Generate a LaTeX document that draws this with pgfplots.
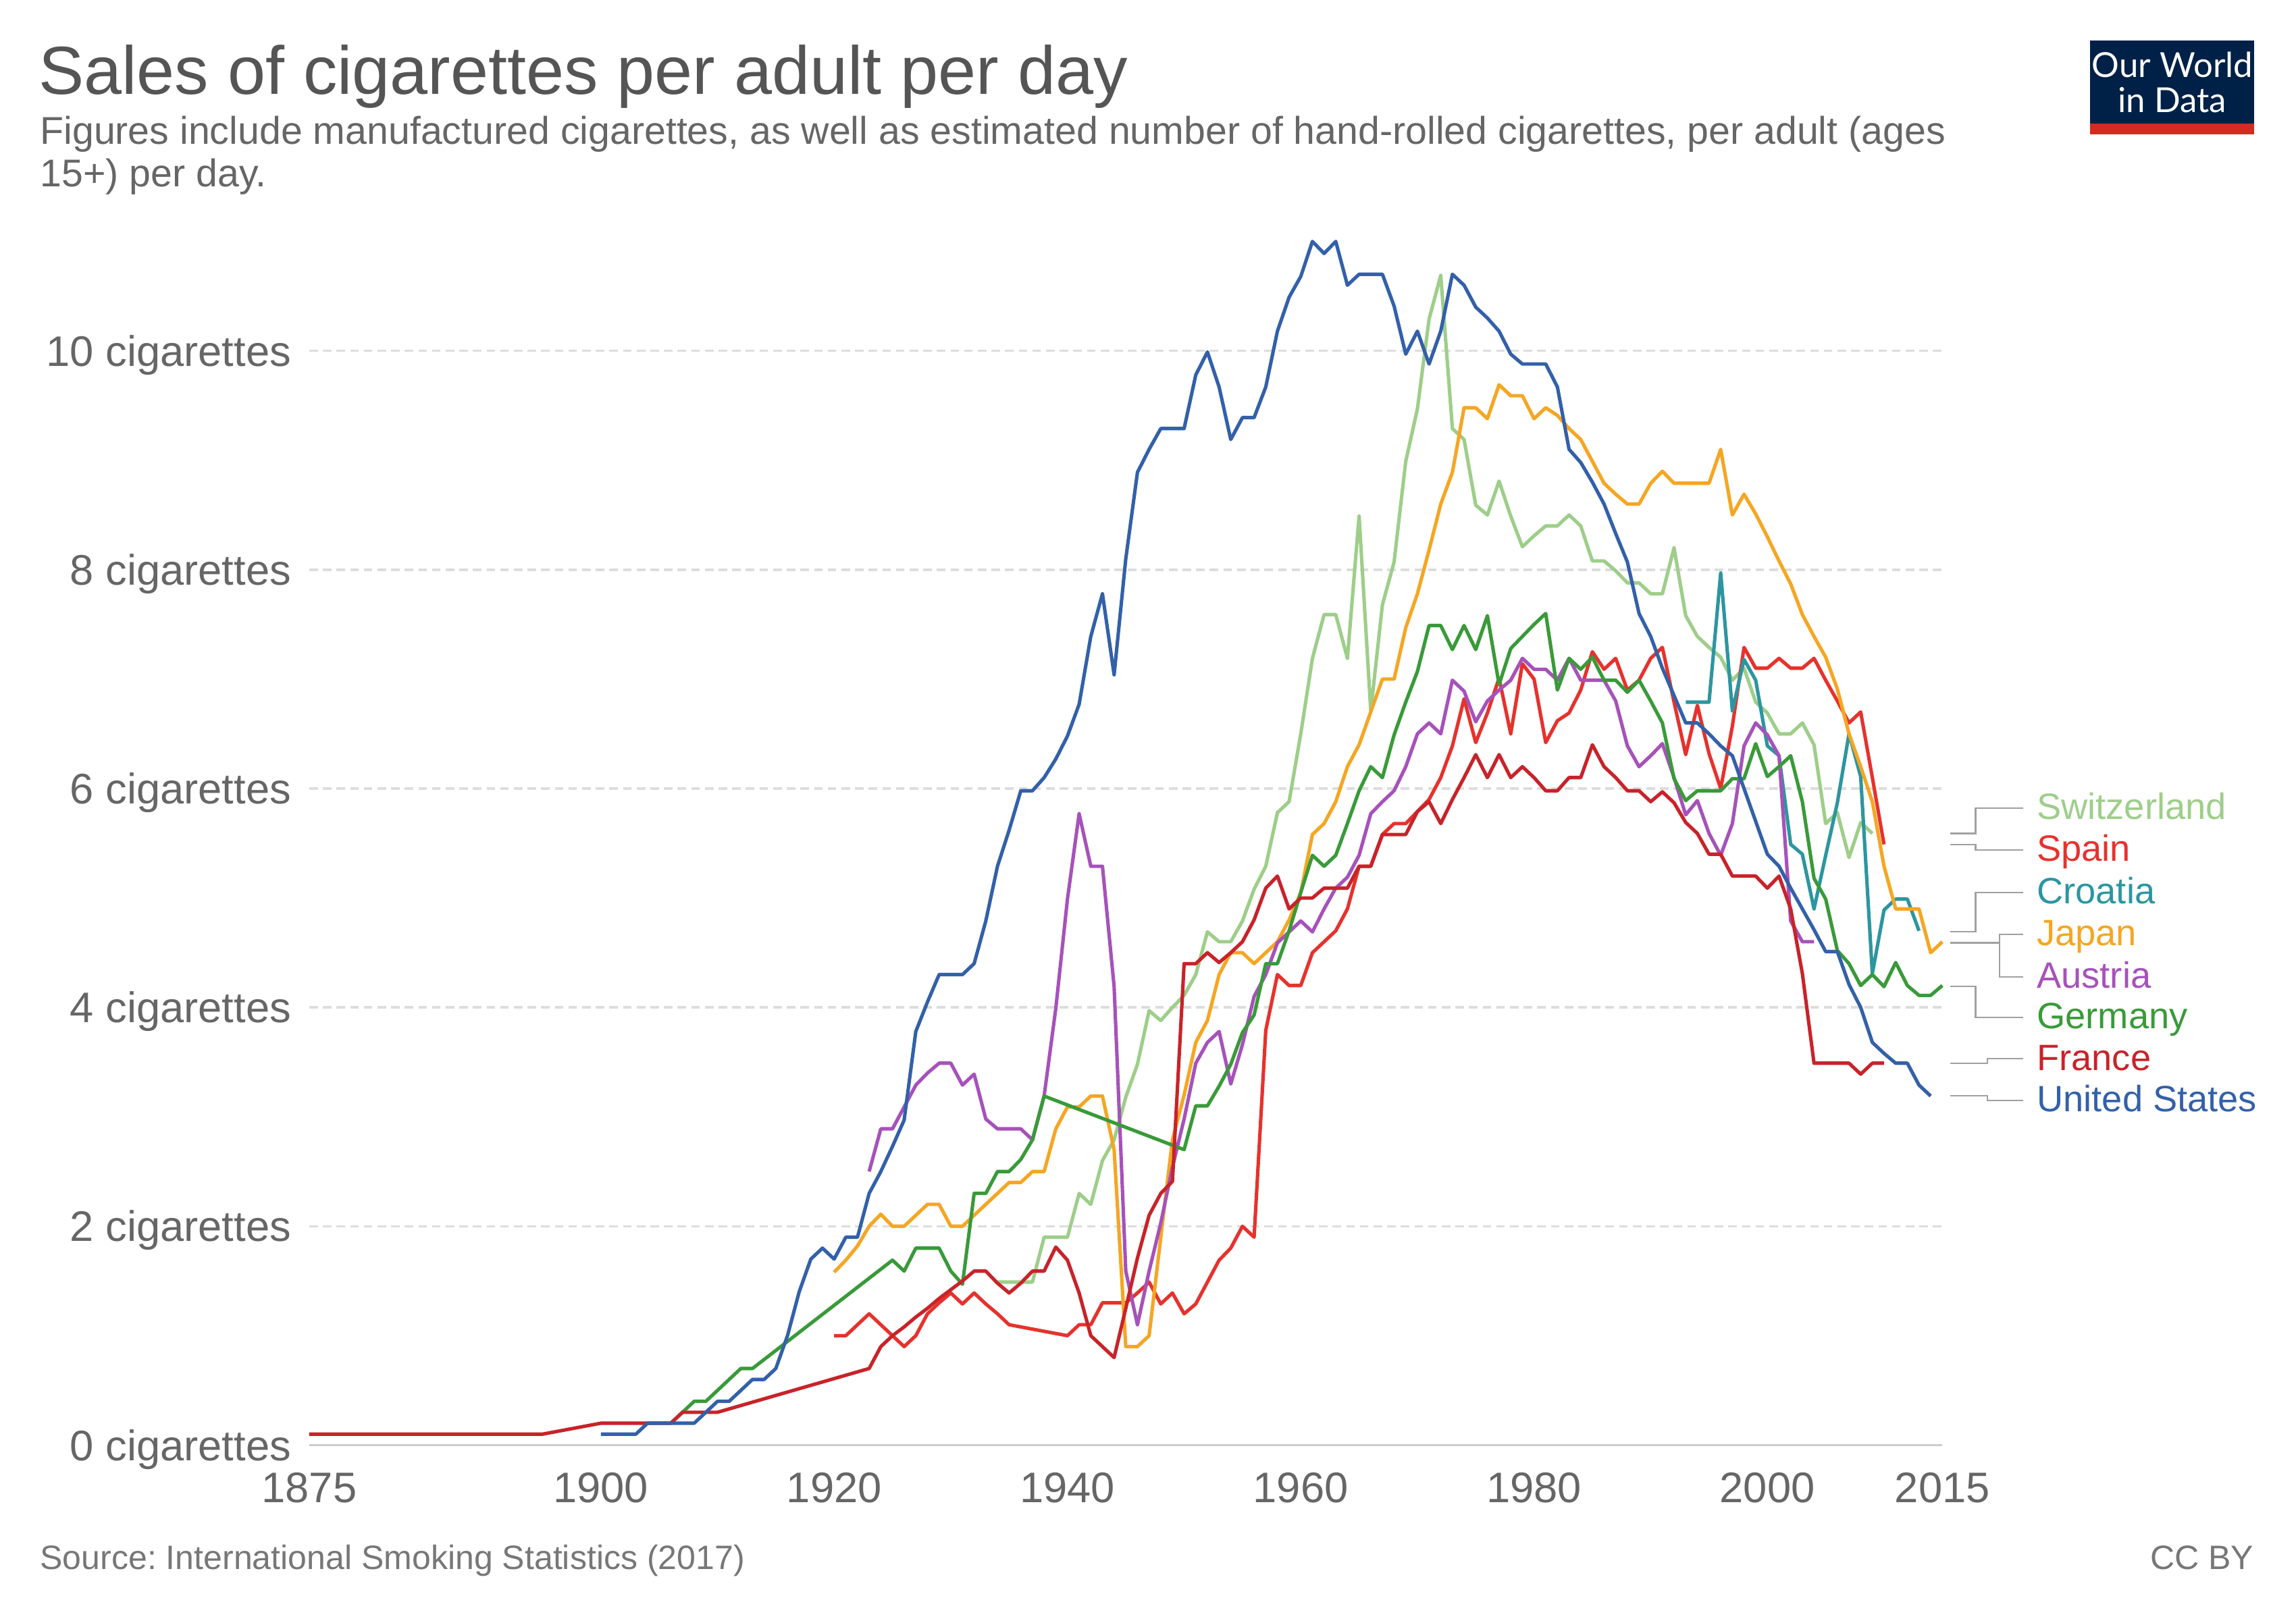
\documentclass[border=0pt]{standalone}
\usepackage{fontspec}
\setmainfont{Liberation Sans}
\newfontfamily\latofont{Lato}
\usepackage{pgfplots}
\pgfplotsset{compat=1.18}
\frenchspacing
\definecolor{swiss}{RGB}{158,206,138}
\definecolor{spain}{RGB}{230,50,45}
\definecolor{croatia}{RGB}{44,150,160}
\definecolor{japan}{RGB}{245,166,35}
\definecolor{austria}{RGB}{166,82,186}
\definecolor{germany}{RGB}{57,154,57}
\definecolor{france}{RGB}{200,35,42}
\definecolor{usa}{RGB}{51,96,169}
\definecolor{titlegray}{RGB}{85,85,85}
\definecolor{subgray}{RGB}{102,102,102}
\definecolor{tickgray}{RGB}{102,102,102}
\definecolor{srcgray}{RGB}{119,119,119}
\definecolor{gridgray}{RGB}{221,221,221}
\definecolor{axisgray}{RGB}{204,204,204}
\definecolor{conngray}{RGB}{160,160,160}
\definecolor{owidnavy}{RGB}{0,33,71}
\definecolor{owidred}{RGB}{212,43,33}

\pgfplotstableread{
year val
1934 1.49
1935 1.49
1936 1.49
1937 1.49
1938 1.9
1939 1.9
1940 1.9
1941 2.3
1942 2.2
1943 2.6
1944 2.79
1945 3.18
1946 3.48
1947 3.97
1948 3.88
1949 4.0
1950 4.11
1951 4.3
1952 4.69
1953 4.6
1954 4.6
1955 4.79
1956 5.08
1957 5.29
1958 5.78
1959 5.88
1960 6.5
1961 7.19
1962 7.59
1963 7.59
1964 7.19
1965 8.49
1966 6.71
1967 7.68
1968 8.07
1969 8.99
1970 9.47
1971 10.29
1972 10.69
1973 9.29
1974 9.19
1975 8.59
1976 8.5
1977 8.81
1978 8.49
1979 8.21
1980 8.31
1981 8.40
1982 8.40
1983 8.5
1984 8.4
1985 8.08
1986 8.08
1987 7.99
1988 7.88
1989 7.88
1990 7.78
1991 7.78
1992 8.2
1993 7.58
1994 7.39
1995 7.29
1996 7.2
1997 6.99
1998 7.1
1999 6.79
2000 6.69
2001 6.5
2002 6.5
2003 6.6
2004 6.4
2005 5.68
2006 5.78
2007 5.37
2008 5.69
2009 5.59
}\tswiss

\pgfplotstableread{
year val
1920 1.0
1921 1.0
1922 1.1
1923 1.2
1924 1.1
1925 1.0
1926 0.9
1927 1.0
1928 1.2
1929 1.3
1930 1.39
1931 1.29
1932 1.39
1933 1.29
1934 1.2
1935 1.1
1940 1.0
1941 1.1
1942 1.1
1943 1.3
1944 1.3
1945 1.3
1946 1.39
1947 1.49
1948 1.29
1949 1.39
1950 1.2
1951 1.29
1952 1.49
1953 1.69
1954 1.8
1955 2.0
1956 1.9
1957 3.79
1958 4.3
1959 4.2
1960 4.2
1961 4.5
1962 4.6
1963 4.7
1964 4.9
1965 5.29
1966 5.29
1967 5.58
1968 5.68
1969 5.68
1970 5.79
1971 5.9
1972 6.1
1973 6.39
1974 6.82
1975 6.42
1976 6.69
1977 7.01
1978 6.5
1979 7.14
1980 7.0
1981 6.42
1982 6.62
1983 6.69
1984 6.9
1985 7.25
1986 7.09
1987 7.19
1988 6.9
1989 6.99
1990 7.19
1991 7.29
1992 6.79
1993 6.31
1994 6.76
1995 6.32
1996 6.0
1997 6.57
1998 7.29
1999 7.1
2000 7.1
2001 7.19
2002 7.1
2003 7.1
2004 7.19
2005 6.99
2006 6.8
2007 6.6
2008 6.7
2009 6.1
2010 5.49
}\tspain

\pgfplotstableread{
year val
1993 6.79
1994 6.79
1995 6.79
1996 7.97
1997 6.71
1998 7.18
1999 6.99
2000 6.39
2001 6.3
2002 5.49
2003 5.4
2004 4.9
2005 5.39
2006 5.87
2007 6.5
2008 6.11
2009 4.31
2010 4.89
2011 4.99
2012 4.99
2013 4.7
}\tcroatia

\pgfplotstableread{
year val
1920 1.58
1921 1.69
1922 1.82
1923 2.0
1924 2.11
1925 2.0
1926 2.0
1927 2.1
1928 2.2
1929 2.2
1930 2.0
1931 2.0
1932 2.1
1933 2.2
1934 2.3
1935 2.4
1936 2.4
1937 2.5
1938 2.5
1939 2.89
1940 3.09
1941 3.09
1942 3.19
1943 3.19
1944 2.7
1945 0.9
1946 0.9
1947 1.0
1948 1.9
1949 2.79
1950 3.2
1951 3.68
1952 3.88
1953 4.3
1954 4.5
1955 4.5
1956 4.4
1957 4.5
1958 4.6
1959 4.8
1960 5.05
1961 5.58
1962 5.68
1963 5.88
1964 6.2
1965 6.4
1966 6.7
1967 7.0
1968 7.0
1969 7.47
1970 7.78
1971 8.18
1972 8.6
1973 8.89
1974 9.48
1975 9.48
1976 9.38
1977 9.69
1978 9.59
1979 9.59
1980 9.38
1981 9.48
1982 9.41
1983 9.29
1984 9.19
1985 8.99
1986 8.79
1987 8.69
1988 8.6
1989 8.6
1990 8.79
1991 8.9
1992 8.79
1993 8.79
1994 8.79
1995 8.79
1996 9.1
1997 8.5
1998 8.69
1999 8.51
2000 8.3
2001 8.08
2002 7.87
2003 7.59
2004 7.39
2005 7.2
2006 6.91
2007 6.5
2008 6.2
2009 5.88
2010 5.29
2011 4.9
2012 4.9
2013 4.9
2014 4.5
2015 4.6
}\tjapan

\pgfplotstableread{
year val
1923 2.5
1924 2.89
1925 2.89
1926 3.09
1927 3.29
1928 3.4
1929 3.49
1930 3.49
1931 3.29
1932 3.39
1933 2.98
1934 2.89
1935 2.89
1936 2.89
1937 2.79
1938 3.19
1939 3.99
1940 4.99
1941 5.77
1942 5.29
1943 5.29
1944 4.19
1945 1.59
1946 1.1
1947 1.59
1948 2.03
1949 2.54
1950 2.98
1951 3.49
1952 3.68
1953 3.78
1954 3.30
1955 3.66
1956 4.1
1957 4.3
1958 4.59
1959 4.69
1960 4.79
1961 4.69
1962 4.9
1963 5.09
1964 5.19
1965 5.39
1966 5.77
1967 5.88
1968 5.98
1969 6.2
1970 6.5
1971 6.6
1972 6.5
1973 6.99
1974 6.89
1975 6.61
1976 6.8
1977 6.9
1978 6.99
1979 7.19
1980 7.09
1981 7.09
1982 6.99
1983 7.19
1984 6.99
1985 6.99
1986 6.99
1987 6.8
1988 6.39
1989 6.2
1990 6.3
1991 6.41
1992 6.1
1993 5.76
1994 5.89
1995 5.59
1996 5.39
1997 5.68
1998 6.39
1999 6.6
2000 6.49
2001 6.3
2002 4.79
2003 4.6
2004 4.6
}\taustria

\pgfplotstableread{
year val
1906 0.2
1907 0.3
1908 0.4
1909 0.4
1910 0.5
1911 0.6
1912 0.7
1913 0.7
1925 1.69
1926 1.59
1927 1.8
1928 1.8
1929 1.8
1930 1.59
1931 1.47
1932 2.3
1933 2.3
1934 2.5
1935 2.5
1936 2.61
1937 2.79
1938 3.19
1950 2.7
1951 3.1
1952 3.1
1953 3.28
1954 3.48
1955 3.77
1956 3.93
1957 4.4
1958 4.4
1959 4.7
1960 5.05
1961 5.39
1962 5.29
1963 5.39
1964 5.68
1965 5.98
1966 6.2
1967 6.1
1968 6.49
1969 6.79
1970 7.07
1971 7.49
1972 7.49
1973 7.27
1974 7.49
1975 7.27
1976 7.58
1977 6.95
1978 7.28
1979 7.39
1980 7.5
1981 7.6
1982 6.9
1983 7.19
1984 7.09
1985 7.2
1986 6.99
1987 6.99
1988 6.88
1989 6.99
1990 6.8
1991 6.6
1992 6.09
1993 5.89
1994 5.98
1995 5.98
1996 5.98
1997 6.09
1998 6.09
1999 6.41
2000 6.11
2001 6.2
2002 6.3
2003 5.88
2004 5.18
2005 4.99
2006 4.52
2007 4.4
2008 4.2
2009 4.3
2010 4.19
2011 4.41
2012 4.2
2013 4.11
2014 4.11
2015 4.2
}\tgermany

\pgfplotstableread{
year val
1875 0.1
1880 0.1
1885 0.1
1890 0.1
1895 0.1
1900 0.2
1906 0.2
1907 0.3
1910 0.3
1923 0.7
1924 0.9
1925 1.0
1926 1.08
1927 1.17
1928 1.25
1929 1.34
1930 1.42
1931 1.5
1932 1.59
1933 1.59
1934 1.48
1935 1.39
1936 1.48
1937 1.59
1938 1.59
1939 1.81
1940 1.69
1941 1.39
1942 1.0
1943 0.9
1944 0.8
1945 1.25
1946 1.71
1947 2.1
1948 2.3
1949 2.41
1950 4.4
1951 4.4
1952 4.5
1953 4.41
1954 4.5
1955 4.6
1956 4.8
1957 5.09
1958 5.2
1959 4.9
1960 5.0
1961 5.0
1962 5.09
1963 5.09
1964 5.09
1965 5.29
1966 5.29
1967 5.58
1968 5.58
1969 5.58
1970 5.79
1971 5.88
1972 5.68
1973 5.9
1974 6.1
1975 6.31
1976 6.1
1977 6.31
1978 6.1
1979 6.2
1980 6.1
1981 5.98
1982 5.98
1983 6.1
1984 6.1
1985 6.4
1986 6.2
1987 6.1
1988 5.98
1989 5.98
1990 5.88
1991 5.97
1992 5.87
1993 5.69
1994 5.59
1995 5.4
1996 5.4
1997 5.2
1998 5.2
1999 5.2
2000 5.09
2001 5.2
2002 4.9
2003 4.31
2004 3.49
2005 3.49
2006 3.49
2007 3.49
2008 3.39
2009 3.49
2010 3.49
}\tfrance

\pgfplotstableread{
year val
1900 0.1
1901 0.1
1902 0.1
1903 0.1
1904 0.2
1905 0.2
1906 0.2
1907 0.2
1908 0.2
1909 0.3
1910 0.4
1911 0.4
1912 0.5
1913 0.6
1914 0.6
1915 0.7
1916 1.0
1917 1.4
1918 1.7
1919 1.8
1920 1.7
1921 1.9
1922 1.9
1923 2.3
1924 2.5
1925 2.73
1926 2.97
1927 3.78
1928 4.05
1929 4.3
1930 4.3
1931 4.3
1932 4.4
1933 4.79
1934 5.29
1935 5.62
1936 5.98
1937 5.98
1938 6.1
1939 6.27
1940 6.48
1941 6.77
1942 7.39
1943 7.78
1944 7.04
1945 8.1
1946 8.89
1947 9.1
1948 9.29
1949 9.29
1950 9.29
1951 9.78
1952 9.99
1953 9.67
1954 9.19
1955 9.39
1956 9.39
1957 9.67
1958 10.18
1959 10.49
1960 10.68
1961 11.0
1962 10.89
1963 11.0
1964 10.6
1965 10.7
1966 10.7
1967 10.7
1968 10.41
1969 9.97
1970 10.18
1971 9.88
1972 10.18
1973 10.7
1974 10.6
1975 10.4
1976 10.3
1977 10.18
1978 9.97
1979 9.88
1980 9.88
1981 9.88
1982 9.67
1983 9.1
1984 8.98
1985 8.8
1986 8.6
1987 8.33
1988 8.07
1989 7.6
1990 7.39
1991 7.1
1992 6.85
1993 6.6
1994 6.6
1995 6.5
1996 6.39
1997 6.3
1998 6.0
1999 5.7
2000 5.4
2001 5.29
2002 5.09
2003 4.9
2004 4.71
2005 4.51
2006 4.51
2007 4.21
2008 4.0
2009 3.68
2010 3.58
2011 3.49
2012 3.49
2013 3.29
2014 3.19
}\tusa

\begin{document}
\begin{tikzpicture}
\path[use as bounding box] (0,0) rectangle (15.6in,11.012in);
% title and subtitle
\node[anchor=base west, inner sep=0pt, text=titlegray, font=\fontsize{33.4}{40}\selectfont] at (0.26in,10.372in) {Sales of cigarettes per adult per day};
\node[anchor=base west, inner sep=0pt, text=subgray, font=\fontsize{19}{23}\selectfont] at (0.27in,10.032in) {Figures include manufactured cigarettes, as well as estimated number of hand-rolled cigarettes, per adult (ages};
\node[anchor=base west, inner sep=0pt, text=subgray, font=\fontsize{19}{23}\selectfont] at (0.27in,9.742in) {15+) per day.};
% footer
\node[anchor=base west, inner sep=0pt, text=srcgray, font=\fontsize{16.6}{20}\selectfont] at (0.27in,0.346in) {Source: International Smoking Statistics (2017)};
\node[anchor=base east, inner sep=0pt, text=srcgray, font=\fontsize{16.6}{20}\selectfont] at (15.315in,0.346in) {CC BY};
% logo
\fill[owidnavy] (14.202in,10.099in) rectangle (15.317in,10.737in);
\fill[owidred] (14.202in,10.099in) rectangle (15.317in,10.172in);
\node[anchor=base, inner sep=0pt, text=white, font=\latofont\fontsize{16.9}{20}\selectfont] at (14.76in,10.485in) {Our World};
\node[anchor=base, inner sep=0pt, text=white, font=\latofont\fontsize{16.9}{20}\selectfont] at (14.76in,10.247in) {in Data};

\begin{axis}[
  at={(2.101in,1.191in)}, anchor=south west,
  scale only axis, width=11.096in, height=8.18in,
  xmin=1875, xmax=2015, ymin=0, ymax=11,
  clip=false,
  axis line style={draw=none},
  xtick={1875,1900,1920,1940,1960,1980,2000,2015},
  ytick={0,2,4,6,8,10},
  major tick length=0pt,
  ymajorgrids,
  grid style={gridgray, line width=1.1pt, dash pattern=on 4.2pt off 2.5pt},
  extra y ticks={0},
  extra y tick labels={},
  extra y tick style={grid style={solid, axisgray, line width=1.1pt}},
  /pgf/number format/assume math mode=true,
  /pgf/number format/1000 sep={},
  yticklabel={\pgfmathprintnumber{\tick} cigarettes},
  ticklabel style={font=\fontsize{21}{25}\selectfont, text=tickgray, inner sep=0pt},
  yticklabel style={anchor=base east, xshift=-0.12in, yshift=-0.104in},
  xticklabel style={anchor=base, yshift=-0.39in},
  every axis plot/.append style={line width=1.7pt, line join=round, no marks, sharp plot},
]
\addplot[swiss] table[x=year,y=val] {\tswiss};
\addplot[spain] table[x=year,y=val] {\tspain};
\addplot[croatia] table[x=year,y=val] {\tcroatia};
\addplot[japan] table[x=year,y=val] {\tjapan};
\addplot[austria] table[x=year,y=val] {\taustria};
\addplot[germany] table[x=year,y=val] {\tgermany};
\addplot[france] table[x=year,y=val] {\tfrance};
\addplot[usa] table[x=year,y=val] {\tusa};

% legend connectors
\begin{scope}[conngray, line width=0.7pt]
\draw (axis cs:2015.7,5.59) -- (axis cs:2017.85,5.59) -- (axis cs:2017.85,5.82) -- (axis cs:2021.95,5.82);
\draw (axis cs:2015.7,5.49) -- (axis cs:2017.85,5.49) -- (axis cs:2017.85,5.44) -- (axis cs:2021.95,5.44);
\draw (axis cs:2015.7,4.69) -- (axis cs:2017.85,4.69) -- (axis cs:2017.85,5.05) -- (axis cs:2021.95,5.05);
\draw (axis cs:2015.7,4.59) -- (axis cs:2019.9,4.59) -- (axis cs:2019.9,4.67) -- (axis cs:2021.95,4.67);
\draw (axis cs:2019.9,4.59) -- (axis cs:2019.9,4.28) -- (axis cs:2021.95,4.28);
\draw (axis cs:2015.7,4.19) -- (axis cs:2017.85,4.19) -- (axis cs:2017.85,3.91) -- (axis cs:2021.95,3.91);
\draw (axis cs:2015.7,3.49) -- (axis cs:2018.85,3.49) -- (axis cs:2018.85,3.53) -- (axis cs:2021.95,3.53);
\draw (axis cs:2015.7,3.19) -- (axis cs:2018.85,3.19) -- (axis cs:2018.85,3.15) -- (axis cs:2021.95,3.15);
\end{scope}
\tikzset{leg/.style={anchor=base west, inner sep=0pt, yshift=-0.077in, font=\fontsize{18}{22}\selectfont}}
\node[leg, text=swiss] at (axis cs:2023.07,5.82) {Switzerland};
\node[leg, text=spain] at (axis cs:2023.07,5.44) {Spain};
\node[leg, text=croatia] at (axis cs:2023.07,5.05) {Croatia};
\node[leg, text=japan] at (axis cs:2023.07,4.67) {Japan};
\node[leg, text=austria] at (axis cs:2023.07,4.28) {Austria};
\node[leg, text=germany] at (axis cs:2023.07,3.91) {Germany};
\node[leg, text=france] at (axis cs:2023.07,3.53) {France};
\node[leg, text=usa] at (axis cs:2023.07,3.15) {United States};
\end{axis}
\end{tikzpicture}
\end{document}
